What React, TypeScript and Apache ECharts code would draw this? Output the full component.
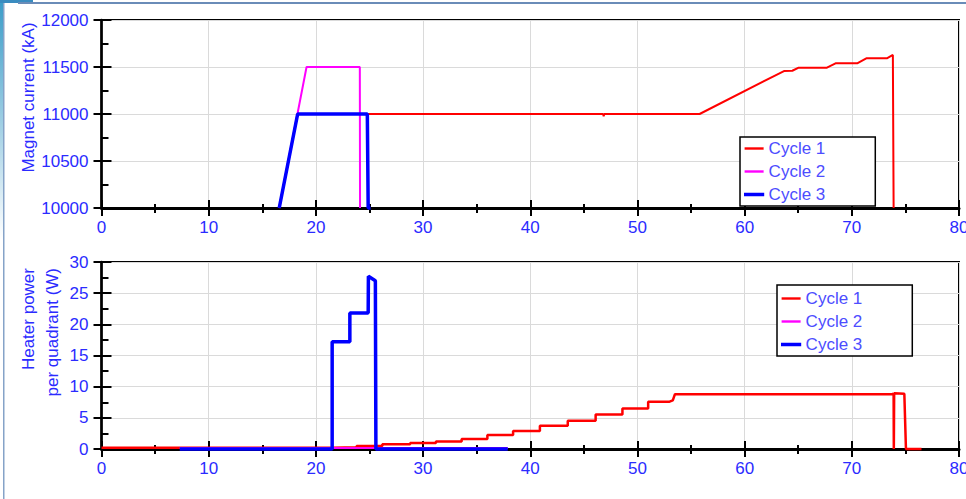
import React, { useEffect, useRef } from 'react';
import * as echarts from 'echarts';

// ---------- Data ----------
const seriesNames = ['Cycle 1', 'Cycle 2', 'Cycle 3'];

// Magnet current (kA) vs time
const magnetCycle1X = [16.58, 18.3, 46.8, 46.85, 46.9, 55.8, 63.67, 64.45, 65.04, 67.68, 68.48, 70.5, 71.35, 73.27, 73.83, 73.9];
const magnetCycle1Y = [10000, 11000, 11000, 10975, 11000, 11000, 11457, 11460, 11493, 11493, 11539, 11539, 11592, 11592, 11628, 10000];
const magnetCycle2X = [16.58, 19.13, 24.1, 24.12];
const magnetCycle2Y = [10000, 11500, 11500, 10000];
const magnetCycle3X = [16.58, 18.3, 24.8, 24.88, 25.1];
const magnetCycle3Y = [10000, 11000, 11000, 10000, 10000];

// Heater power per quadrant (W) vs time
const heaterCycle1X = [0, 21.6, 21.6, 23.8, 23.8, 26.2, 26.2, 28.8, 28.8, 31.2, 31.2, 33.6, 33.6, 36.0, 36.0, 38.4, 38.4, 40.9, 40.9, 43.5, 43.5, 46.1, 46.1, 48.6, 48.6, 51.0, 51.0, 53.0, 53.3, 53.5, 73.85, 73.9, 73.92, 73.95, 74.9, 75.05, 76.5];
const heaterCycle1Y = [0.2, 0.2, 0.3, 0.3, 0.5, 0.5, 0.75, 0.75, 0.95, 0.95, 1.2, 1.2, 1.6, 1.6, 2.25, 2.25, 2.9, 2.9, 3.75, 3.75, 4.55, 4.55, 5.55, 5.55, 6.5, 6.5, 7.6, 7.6, 7.8, 8.8, 8.8, 9.0, 0, 8.95, 8.85, 0, 0];
const heaterCycle2X = [7.3, 37.9];
const heaterCycle2Y = [0.15, 0.15];
const heaterCycle3X = [7.3, 21.52, 21.52, 23.17, 23.17, 24.88, 24.9, 25.55, 25.6, 37.9];
const heaterCycle3Y = [0, 0, 17.2, 17.2, 21.8, 21.8, 27.7, 27.0, 0, 0];

const timeAxis = { min: 0, max: 80, interval: 10 };
const magnetAxis = { min: 10000, max: 12000, interval: 500 };
const heaterAxis = { min: 0, max: 30, interval: 5 };

const magnetTitle = 'Magnet current (kA)';
const heaterTitle = 'Heater power\nper quadrant (W)';

// ---------- Styles ----------
const FONT = '"Liberation Sans", Arial, Helvetica, sans-serif';
const FS = 17;
const LABEL_BLUE = '#2b2bff';
const LEGEND_BLUE = '#4d4dff';
const GRID_GRAY = '#dadada';
const colors = ['#ff0000', '#ff00ff', '#0000ff'];
const widths = [2, 2, 3.5];

const zip = (xs: number[], ys: number[]) => xs.map((x, i) => [x, ys[i]]);
const plain = (v: number) => String(v);

function xAxesFor(gridIndex: number) {
  const base = { type: 'value', gridIndex, ...timeAxis, position: 'bottom' };
  return [
    {
      ...base,
      axisLine: { show: true, onZero: false, lineStyle: { color: '#000', width: 3 } },
      axisTick: { show: true, inside: false, length: 8, lineStyle: { color: '#000', width: 2 } },
      minorTick: { show: true, splitNumber: 2, length: 5, lineStyle: { color: '#000', width: 2 } },
      axisLabel: { color: LABEL_BLUE, fontSize: FS, fontFamily: FONT, margin: 11, formatter: plain },
      splitLine: { show: true, lineStyle: { color: GRID_GRAY, width: 1 } },
      minorSplitLine: { show: false },
    },
    {
      ...base,
      axisLine: { show: false, onZero: false },
      axisTick: { show: true, inside: true, length: 8, lineStyle: { color: '#000', width: 2 } },
      minorTick: { show: true, splitNumber: 2, length: 4, lineStyle: { color: '#000', width: 2 } },
      axisLabel: { show: false },
      splitLine: { show: false },
    },
  ];
}

function yAxesFor(gridIndex: number, range: { min: number; max: number; interval: number }) {
  const base = { type: 'value', gridIndex, ...range, position: 'left' };
  return [
    {
      ...base,
      axisLine: { show: true, onZero: false, lineStyle: { color: '#000', width: 2.5 } },
      axisTick: { show: true, inside: false, length: 8, lineStyle: { color: '#000', width: 2 } },
      axisLabel: { color: LABEL_BLUE, fontSize: FS, fontFamily: FONT, margin: 13, formatter: plain },
      splitLine: { show: true, lineStyle: { color: GRID_GRAY, width: 1 } },
    },
    {
      ...base,
      axisLine: { show: false, onZero: false },
      axisTick: { show: true, inside: true, length: 10, lineStyle: { color: '#000', width: 2 } },
      minorTick: { show: true, splitNumber: 2, length: 7, lineStyle: { color: '#000', width: 2 } },
      axisLabel: { show: false },
      splitLine: { show: false },
    },
  ];
}

function lineSeries(name: string, idx: number, data: number[][], axisIdx: number, width: number) {
  return {
    name,
    type: 'line',
    xAxisIndex: axisIdx,
    yAxisIndex: axisIdx,
    data,
    symbol: 'none',
    showSymbol: false,
    color: colors[idx],
    lineStyle: { color: colors[idx], width },
    clip: false,
    z: 3 + idx,
  };
}

function legendAt(left: number, top: number, padding: number[]) {
  return {
    data: seriesNames.map((name, i) => ({
      name,
      icon: 'rect',
      itemStyle: i === 2 ? { color: colors[i], borderColor: colors[i], borderWidth: 1.2 } : { color: colors[i], borderWidth: 0 },
    })),
    orient: 'vertical',
    left,
    top,
    padding,
    itemWidth: 19,
    itemHeight: 2.4,
    itemGap: 6,
    backgroundColor: '#ffffff',
    borderColor: '#000000',
    borderWidth: 1.5,
    borderRadius: 0,
    selectedMode: false,
    textStyle: { color: LEGEND_BLUE, fontSize: FS, fontFamily: FONT, lineHeight: 17 },
    z: 20,
  };
}

export default function App() {
  const ref = useRef<HTMLDivElement>(null);
  useEffect(() => {
    document.body.style.margin = '0';
    const chart = echarts.init(ref.current!, null, { renderer: 'svg' });
    const gridBase = {
      left: 101.5,
      right: 7,
      show: true,
      borderColor: '#000',
      borderWidth: 2,
      backgroundColor: 'transparent',
      containLabel: false,
      outerBoundsMode: 'none',
    };
    const option: any = {
      animation: false,
      backgroundColor: '#ffffff',
      grid: [
        { ...gridBase, top: 20, height: 188 },
        { ...gridBase, top: 262, height: 187 },
      ],
      xAxis: [...xAxesFor(0), ...xAxesFor(1)],
      yAxis: [...yAxesFor(0, magnetAxis), ...yAxesFor(1, heaterAxis)],
      legend: [legendAt(740, 137, [3, 50, 3, 4]), legendAt(777, 285, [5, 50, 3, 4])],
      series: [
        lineSeries(seriesNames[0], 0, zip(magnetCycle1X, magnetCycle1Y), 0, widths[0]),
        lineSeries(seriesNames[1], 1, zip(magnetCycle2X, magnetCycle2Y), 0, widths[1]),
        lineSeries(seriesNames[2], 2, zip(magnetCycle3X, magnetCycle3Y), 0, widths[2]),
        lineSeries(seriesNames[0], 0, zip(heaterCycle1X, heaterCycle1Y), 2, 2.5),
        lineSeries(seriesNames[1], 1, zip(heaterCycle2X, heaterCycle2Y), 2, widths[1]),
        lineSeries(seriesNames[2], 2, zip(heaterCycle3X, heaterCycle3Y), 2, widths[2]),
      ],
      graphic: [
        { type: 'rect', shape: { x: 0, y: 0, width: 3, height: 240 }, style: { fill: new echarts.graphic.LinearGradient(0, 0, 0, 1, [{ offset: 0, color: '#3a9cc8' }, { offset: 1, color: '#ffffff' }]) }, silent: true },
        { type: 'rect', shape: { x: 0, y: 0, width: 33, height: 3 }, style: { fill: '#3a8cc0' }, silent: true },
        { type: 'rect', shape: { x: 18, y: 2, width: 948, height: 2 }, style: { fill: '#6a8cb8' }, silent: true },
        { type: 'rect', shape: { x: 3, y: 3, width: 1.5, height: 496 }, style: { fill: '#86a3c8' }, silent: true },
        {
          type: 'text',
          x: 28,
          y: 97.5,
          rotation: Math.PI / 2,
          style: { text: magnetTitle, fill: LABEL_BLUE, font: `${FS}px ${FONT}`, align: 'center', verticalAlign: 'middle' },
          silent: true,
        },
        {
          type: 'text',
          x: 40,
          y: 268,
          rotation: Math.PI / 2,
          style: { text: heaterTitle, fill: LABEL_BLUE, font: `${FS}px ${FONT}`, align: 'right', verticalAlign: 'middle', lineHeight: 24 },
          silent: true,
        },
      ],
    };
    chart.setOption(option);
    return () => chart.dispose();
  }, []);
  return <div ref={ref} style={{ width: 966, height: 499 }} />;
}
